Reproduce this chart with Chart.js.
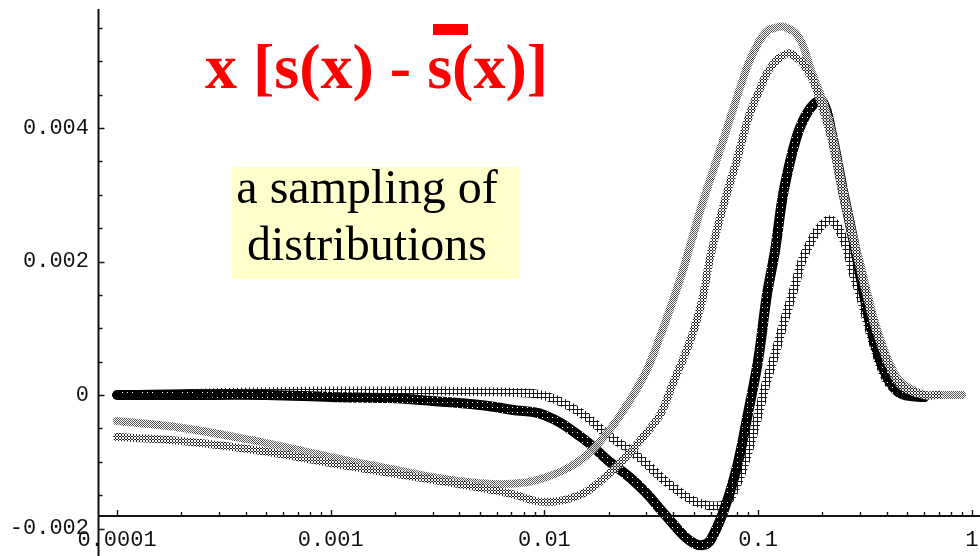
<!DOCTYPE html>
<html>
<head>
<meta charset="utf-8">
<title>x [s(x) - s(x)]</title>
<script src="https://cdn.jsdelivr.net/npm/chart.js@4.4.0/dist/chart.umd.min.js"></script>
<style>
  html, body { margin: 0; padding: 0; background: #fff; }
  #wrap { position: relative; width: 980px; height: 556px; overflow: hidden; }
  #chart { position: absolute; left: 0; top: 0; }
  .title { position: absolute; left: 205px; top: 35px; font: bold 64px "Liberation Serif", serif; line-height: 64px; color: #ff0000; white-space: pre; }
  .sbar { position: relative; }
  .sbar::before { content: ''; position: absolute; left: 6px; top: -7px; width: 35px; height: 11px; background: #ff0000; }
  .note-box { position: absolute; left: 232px; top: 167px; width: 288px; height: 112px; background: #ffffcc; }
  .note { position: absolute; left: 232px; top: 158px; width: 270px; text-align: center; font: 48px "Liberation Serif", serif; line-height: 57px; color: #000; white-space: nowrap; }
</style>
</head>
<body>
<div id="wrap">
  <div class="note-box"></div>
  <canvas id="chart" width="980" height="556"></canvas>
  <div class="title">x [s(x) - <span class="sbar">s</span>(x)]</div>
  <div class="note">a sampling of<br>distributions</div>
</div>
<script>
// data (x is log scale)
const xValues = [0.0001, 0.0002, 0.0005, 0.001, 0.002, 0.003, 0.005, 0.007, 0.01, 0.015,
  0.02, 0.025, 0.03, 0.035, 0.04, 0.045, 0.05, 0.055, 0.06, 0.07,
  0.08, 0.09, 0.1, 0.11, 0.12, 0.13, 0.14, 0.15, 0.16, 0.18,
  0.2, 0.22, 0.25, 0.28, 0.3, 0.35, 0.4, 0.45, 0.5, 0.6,
  0.7, 0.8, 0.9];

const blackValues = [0, 0, 0, -0.00003, -0.00005, -0.00009, -0.00015, -0.00022, -0.0003, -0.00064,
  -0.00099, -0.00123, -0.00147, -0.00172, -0.00193, -0.00211, -0.00222, -0.00225, -0.00217, -0.00168,
  -0.00105, -0.00025, 0.00052, 0.0015, 0.00216, 0.00295, 0.00345, 0.00382, 0.00407, 0.00434,
  0.0044, 0.00395, 0.00305, 0.0023, 0.0018, 0.0008, 0.00028, 0.00005, -0.00001, -0.00003,
  null, null, null];

const plusValues = [0, 0.00002, 0.00005, 0.00006, 0.00006, 0.00006, 0.00005, 0.00004, -0.00001, -0.00028,
  -0.00061, -0.00082, -0.00103, -0.00123, -0.00138, -0.0015, -0.00159, -0.00163, -0.00166, -0.00163,
  -0.00132, -0.00084, -0.0003, 0.00022, 0.00061, 0.00102, 0.00136, 0.00168, 0.002, 0.00235,
  0.00255, 0.00262, 0.00235, 0.0018, 0.0015, 0.00072, 0.00022, 0.00006, 0, -0.00004,
  null, null, null];

const crossValues = [-0.00039, -0.00049, -0.00072, -0.00093, -0.00112, -0.00123, -0.00132, -0.00133, -0.00124, -0.00096,
  -0.00054, -0.00009, 0.00036, 0.0009, 0.00142, 0.00192, 0.00243, 0.00288, 0.00325, 0.0039,
  0.00448, 0.00496, 0.00527, 0.00545, 0.0055, 0.00552, 0.00548, 0.00542, 0.00528, 0.0048,
  0.00442, 0.00397, 0.00307, 0.00234, 0.00198, 0.00112, 0.00057, 0.00025, 0.00012, 0,
  0, 0, 0];

const diamondValues = [-0.00063, -0.00069, -0.00085, -0.00102, -0.00118, -0.00127, -0.00139, -0.00148, -0.0016, -0.00148,
  -0.00118, -0.00087, -0.00057, -0.00028, 0.00018, 0.00057, 0.00097, 0.00145, 0.0021, 0.00292,
  0.00355, 0.00415, 0.00452, 0.00482, 0.00499, 0.00508, 0.00512, 0.00506, 0.00499, 0.00472,
  0.0043, 0.00385, 0.003, 0.0023, 0.0019, 0.00105, 0.00052, 0.0002, 0.00008, 0,
  0, null, null];

// tick labels
const xTickValues = [0.0001, 0.001, 0.01, 0.1, 1];
const xTickLabels = ['0.0001', '0.001', '0.01', '0.1', '1'];
const yTickValues = [0.004, 0.002, 0, -0.002];
const yTickLabels = ['0.004', '0.002', '0', '-0.002'];

// view window and where the axes cross
const xMin = 0.00002835, xMax = 1.0924;
const yMin = -0.002412, yMax = 0.005918;
const yAxisAtX = 0.0000815;
const xAxisAtY = -0.00181;

const canvas = document.getElementById('chart');
const ctx = canvas.getContext('2d');

// dotted textures so the bands look like dense marker plots
function makePattern(size, color, cells, opts = {}){
  const c = document.createElement('canvas');
  c.width = c.height = size;
  const g = c.getContext('2d');
  if (opts.bg) {
    g.fillStyle = opts.bg;
    g.fillRect(0, 0, size, size);
  }
  g.fillStyle = color;
  if (opts.invert) {
    g.fillRect(0, 0, size, size);
    cells.forEach(([a, b]) => g.clearRect(a, b, 1, 1));
  } else {
    cells.forEach(([a, b]) => g.fillRect(a, b, 1, 1));
  }
  return ctx.createPattern(c, 'repeat');
}

const blackFill = makePattern(5, '#000', [[2, 2]], { invert: true });
const plusFill = makePattern(4, '#1a1a1a', [[1, 0], [0, 1], [1, 1], [2, 1], [3, 1], [1, 2], [1, 3]]);
const crossFill = makePattern(2, '#555', [[0, 0], [1, 1]], { bg: 'rgba(255,255,255,0.85)' });
const diamondFill = makePattern(3, '#222', [[1, 0], [0, 1], [2, 1], [1, 2]], { bg: 'rgba(255,255,255,0.85)' });

function band(label, values, color, width){
  return {
    label,
    data: xValues.map((x, i) => ({ x, y: values[i] })),
    borderColor: color,
    borderWidth: width,
    borderCapStyle: 'round',
    borderJoinStyle: 'round',
    pointRadius: 0,
    tension: 0.4,
    fill: false,
    spanGaps: false
  };
}

// axes drawn Mathematica style: crossing inside the plot, ticks pointing inward
const axesPlugin = {
  id: 'crossAxes',
  afterDatasetsDraw(chart){
    const { ctx: c, scales: { x, y } } = chart;
    const ax = Math.round(x.getPixelForValue(yAxisAtX)) + 0.5;
    const ay = Math.round(y.getPixelForValue(xAxisAtY));
    c.save();
    c.fillStyle = '#111';
    c.font = '22px "Liberation Mono", monospace';

    // labels first, the axis lines run over them
    c.textAlign = 'right';
    c.textBaseline = 'middle';
    yTickValues.forEach((v, i) => c.fillText(yTickLabels[i], 89, y.getPixelForValue(v)));
    c.textAlign = 'center';
    xTickValues.forEach((v, i) => c.fillText(xTickLabels[i], x.getPixelForValue(v), 540));

    c.strokeStyle = '#111';
    c.lineWidth = 2;
    c.beginPath();
    c.moveTo(ax, 9);
    c.lineTo(ax, chart.height);
    c.moveTo(ax, ay);
    c.lineTo(chart.width, ay);
    c.stroke();

    c.lineWidth = 1.4;
    c.beginPath();
    for (let v = -0.002; v <= 0.00551; v += 0.0005) {
      const py = Math.round(y.getPixelForValue(v)) + 0.5;
      const major = Math.abs(Math.round(v / 0.002) * 0.002 - v) < 1e-7;
      c.moveTo(ax, py);
      c.lineTo(ax + (major ? 6 : 4), py);
    }
    [0.0001, 0.001, 0.01, 0.1].forEach(d => {
      for (let k = 1; k <= 10; k++) {
        const px = Math.round(x.getPixelForValue(k * d)) + 0.5;
        const major = k === 1 || k === 10;
        c.moveTo(px, ay);
        c.lineTo(px, ay - (major ? 6 : 4));
      }
    });
    c.stroke();
    c.restore();
  }
};

// first dataset is painted last: light bands sit over the black one
new Chart(canvas, {
  type: 'line',
  data: {
    datasets: [
      band('sample 3', diamondValues, diamondFill, 8),
      band('sample 4', crossValues, crossFill, 8),
      band('sample 1', blackValues, blackFill, 10),
      band('sample 2', plusValues, plusFill, 9)
    ]
  },
  options: {
    responsive: false,
    animation: false,
    layout: { padding: 0 },
    plugins: { legend: { display: false }, tooltip: { enabled: false }, title: { display: false } },
    scales: {
      x: { type: 'logarithmic', min: xMin, max: xMax, bounds: 'data', display: false },
      y: { type: 'linear', min: yMin, max: yMax, bounds: 'data', display: false }
    }
  },
  plugins: [axesPlugin]
});
</script>
</body>
</html>
